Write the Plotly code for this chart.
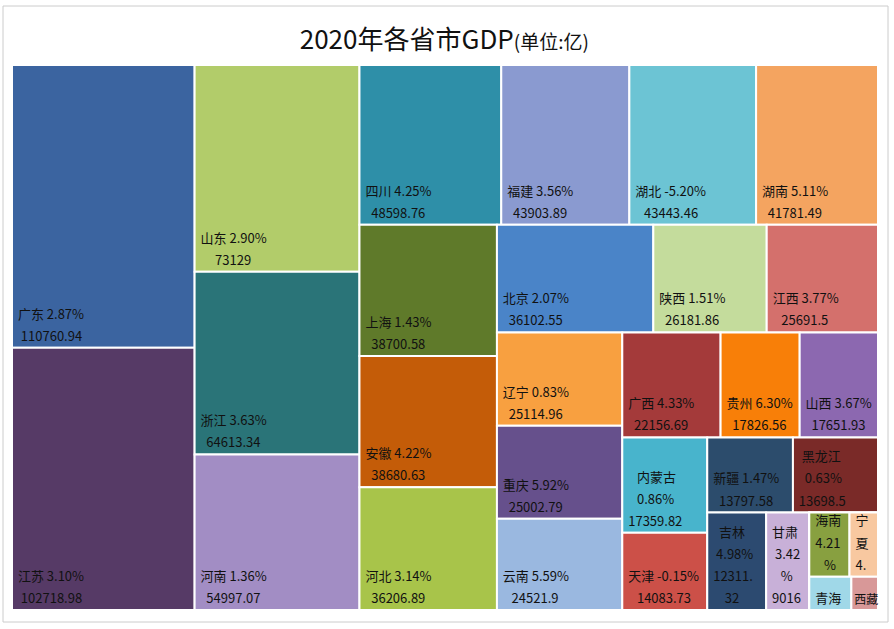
import plotly.graph_objects as go

provinces = ["广东", "江苏", "山东", "浙江", "河南", "四川", "福建", "湖北", "湖南", "上海",
             "安徽", "河北", "北京", "陕西", "江西", "辽宁", "重庆", "云南", "广西", "贵州",
             "山西", "内蒙古", "天津", "新疆", "黑龙江", "吉林", "甘肃", "海南", "宁夏", "青海", "西藏"]
gdp = [110760.94, 102718.98, 73129, 64613.34, 54997.07, 48598.76, 43903.89, 43443.46, 41781.49, 38700.58,
       38680.63, 36206.89, 36102.55, 26181.86, 25691.5, 25114.96, 25002.79, 24521.9, 22156.69, 17826.56,
       17651.93, 17359.82, 14083.73, 13797.58, 13698.5, 12311.32, 9016, 5532.39, 3920.55, 3005.92, 1902.74]
growth = ["2.87%", "3.10%", "2.90%", "3.63%", "1.36%", "4.25%", "3.56%", "-5.20%", "5.11%", "1.43%",
          "4.22%", "3.14%", "2.07%", "1.51%", "3.77%", "0.83%", "5.92%", "5.59%", "4.33%", "6.30%",
          "3.67%", "0.86%", "-0.15%", "1.47%", "0.63%", "4.98%", "3.42%", "4.21%", "4.00%", "1.50%", "7.80%"]
colors = ["#3b64a0", "#563a66", "#b2cc6a", "#2a7478", "#a28dc4", "#2e8fa8", "#8a9ad0", "#6cc4d4", "#f4a460", "#5f7a2a",
          "#c45c08", "#a8c44a", "#4a84c8", "#c4dc9c", "#d4706c", "#f8a040", "#66508c", "#9ab8e0", "#a43a3a", "#f87f08",
          "#8c68b0", "#48b4cc", "#cc5048", "#2c4c6c", "#7a2a28", "#2c4a70", "#c8b0d8", "#88a040", "#f8c8a0", "#a0d8e8", "#d89898"]

# how the label text wraps in the narrow cells (as in the reference)
wrapped = {
    "内蒙古": ["内蒙古", "0.86%", "17359.82"],
    "黑龙江": ["黑龙江", "0.63%", "13698.5"],
    "吉林": ["吉林", "4.98%", "12311.", "32"],
    "甘肃": ["甘肃", "3.42", "%", "9016"],
    "海南": ["海南", "4.21", "%"],
    "宁夏": ["宁", "夏", "4."],
    "青海": ["青海"],
    "西藏": ["西藏"],
}
small_font = {"西藏": 12}

# invisible grouping of the smallest cells so the squarified tiling
# arranges the bottom-right corner like the reference
small_groups = {"海南": "g_a", "宁夏": "g_a", "青海": "g_b", "西藏": "g_b"}
group_nodes = [("g", ""), ("g_a", "g"), ("g_b", "g")]

CHAR_W = {".": 3.5, "%": 11.3, "-": 4.5, " ": 2.9}
NBSP = "\u00a0"


def text_width(s):
    w = 0.0
    for ch in s:
        if ch in CHAR_W:
            w += CHAR_W[ch]
        elif ch.isdigit():
            w += 7.2
        else:
            w += 13.0
    return w


def cell_text(name, g, v):
    lines = wrapped.get(name, [f"{name} {g}", f"{v}"])
    fs = small_font.get(name, 13)
    lead = 0 if name in small_font else 1
    widest = max(text_width(ln) for ln in lines)
    out = []
    for ln in lines:
        n_pad = lead + int(round((widest - text_width(ln)) / 2 / 2.9))
        out.append(f"<span style='font-size:{fs}px'>{NBSP * n_pad}{ln}</span>")
    return "<br>".join(out)


ids, labels, parents, values, texts, node_colors = [], [], [], [], [], []
for n, g, v, c in zip(provinces, growth, gdp, colors):
    if n == "海南":
        for gid, gpar in group_nodes:
            ids.append(gid); labels.append(" "); parents.append(gpar)
            values.append(0); texts.append(""); node_colors.append("white")
    ids.append(n); labels.append(n); parents.append(small_groups.get(n, ""))
    values.append(v); texts.append(cell_text(n, g, v)); node_colors.append(c)

fig = go.Figure(go.Treemap(
    ids=ids,
    labels=labels,
    parents=parents,
    values=values,
    text=texts,
    texttemplate="%{text}",
    hoverinfo="label+value",
    textposition="bottom left",
    textfont=dict(family="Noto Sans CJK SC", size=17, color="#111111"),
    marker=dict(colors=node_colors, line=dict(color="white", width=2),
                pad=dict(t=0, l=0, r=0, b=0)),
    tiling=dict(packing="squarify", squarifyratio=1, pad=0),
    pathbar=dict(visible=False),
    sort=False,
))

fig.update_layout(
    width=894, height=629,
    margin=dict(l=12, r=16, t=65, b=19),
    paper_bgcolor="white",
    uniformtext=dict(minsize=17, mode="show"),
    title=dict(
        text="2020年各省市GDP<span style='font-size:19px'>(单位:亿)</span>",
        x=0.497, xanchor="center", y=0.936, yanchor="middle",
        font=dict(family="Noto Sans CJK SC", size=26, color="#111111"),
    ),
    shapes=[dict(type="rect", xref="paper", yref="paper",
                 x0=-9 / 866, x1=1 + 10 / 866, y0=-12 / 545, y1=1 + 59 / 545,
                 line=dict(color="#cccccc", width=1), fillcolor="rgba(0,0,0,0)")],
)

fig.write_html("out.html", config={"displayModeBar": False},
               post_script="document.body.style.margin='0px';")
